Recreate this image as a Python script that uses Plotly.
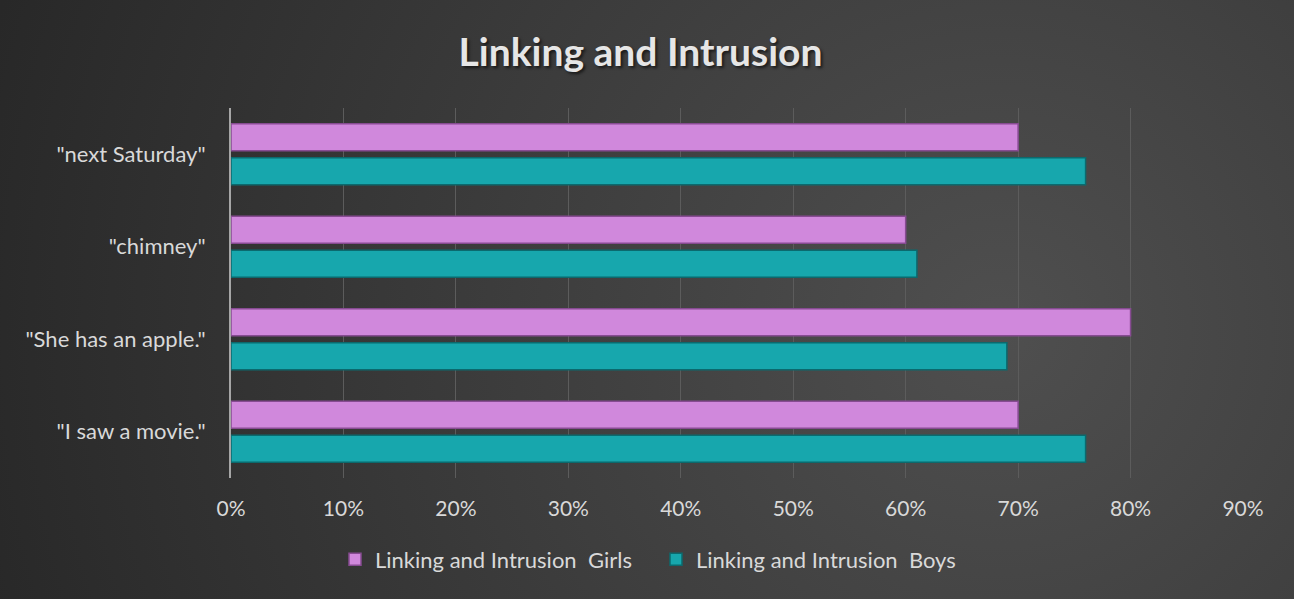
import plotly.graph_objects as go

categories = ['"I saw a movie."', '"She has an apple."', '"chimney"', '"next Saturday"']
girls = [0.70, 0.80, 0.60, 0.70]
boys = [0.76, 0.69, 0.61, 0.76]
tick_vals = [0, 0.1, 0.2, 0.3, 0.4, 0.5, 0.6, 0.7, 0.8, 0.9]
tick_text = ["0%", "10%", "20%", "30%", "40%", "50%", "60%", "70%", "80%", "90%"]

FONT = "Lato"
W, H = 1294, 599
ML, MR, MT, MB = 231, 51, 108, 121
PW, PH = W - ML - MR, H - MT - MB

bg_svg = (
    "data:image/svg+xml;utf8,"
    "<svg xmlns='http://www.w3.org/2000/svg' width='1294' height='599' preserveAspectRatio='none'>"
    "<defs><radialGradient id='g' gradientUnits='userSpaceOnUse' cx='1000' cy='330' r='1050'>"
    "<stop offset='0' stop-color='%234f4f4f'/>"
    "<stop offset='1' stop-color='%23282828'/>"
    "</radialGradient></defs>"
    "<rect width='1294' height='599' fill='url(%23g)'/>"
    "</svg>"
)

fig = go.Figure()
fig.add_trace(go.Bar(
    y=categories, x=boys, orientation="h",
    name="Linking and Intrusion  Boys",
    marker=dict(color="#17a7ad", line=dict(color="#0b6a6e", width=1.5)),
    legendrank=2,
))
fig.add_trace(go.Bar(
    y=categories, x=girls, orientation="h",
    name="Linking and Intrusion  Girls",
    marker=dict(color="#d088dc", line=dict(color="#874b92", width=1.5)),
    legendrank=1,
))

fig.update_layout(
    width=W, height=H,
    margin=dict(l=ML, r=MR, t=MT, b=MB),
    paper_bgcolor="#3a3a3a",
    plot_bgcolor="rgba(0,0,0,0)",
    barmode="group",
    bargap=0.265,
    bargroupgap=0.2,
    images=[dict(source=bg_svg, xref="paper", yref="paper",
                 x=-ML / PW, y=1 + MT / PH,
                 sizex=W / PW, sizey=H / PH, xanchor="left", yanchor="top",
                 sizing="stretch", layer="below")],
    title=dict(text="<b>Linking and Intrusion</b>", x=0.495, xanchor="center",
               y=0.913, yanchor="middle",
               font=dict(family=FONT, size=39, color="#e6e6e6",
                         shadow="2px 2px 3px rgba(0,0,0,0.6)")),
    font=dict(family=FONT, size=22, color="#d9d9d9"),
    xaxis=dict(range=[0, 0.9], tickvals=tick_vals, ticktext=tick_text,
               showgrid=True, gridcolor="#5c5c5c", gridwidth=1,
               zeroline=False, showline=False, ticks="",
               ticklabelstandoff=16,
               tickfont=dict(family=FONT, size=21, color="#d9d9d9")),
    yaxis=dict(showgrid=False, zeroline=False, showline=True,
               linecolor="#a6a6a6", linewidth=2, ticks="",
               ticklabelstandoff=19,
               tickfont=dict(family=FONT, size=22, color="#d9d9d9")),
    legend=dict(orientation="h", x=(656 - ML) / PW, xanchor="center", y=-0.22,
                yanchor="middle", font=dict(family=FONT, size=22, color="#d9d9d9"),
                bgcolor="rgba(0,0,0,0)", itemwidth=30, entrywidth=276),
    showlegend=True,
)

fig.write_html("out.html")
